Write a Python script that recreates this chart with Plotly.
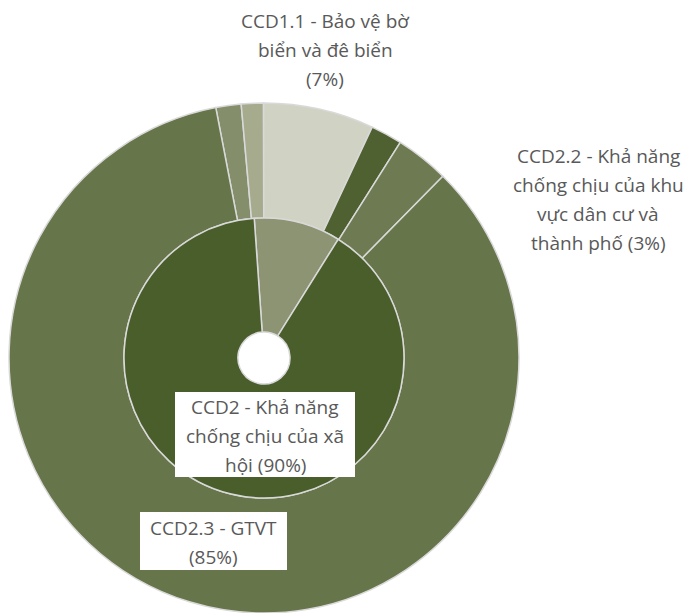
import plotly.graph_objects as go

# Data
inner_labels = ["CCD1", "CCD2 - Khả năng chống chịu của xã hội"]
inner_values = [10, 90]
outer_labels = ["CCD1.2", "CCD1.3", "CCD1.1 - Bảo vệ bờ biển và đê biển", "CCD2.1",
                "CCD2.2 - Khả năng chống chịu của khu vực dân cư và thành phố", "CCD2.3 - GTVT"]
outer_values = [1.6, 1.4, 7, 2, 3.4, 84.6]

inner_colors = ["#8C9474", "#4A5E2C"]
outer_colors = ["#848E6A", "#A6AB8E", "#D0D2C3", "#4F6130", "#6E7B52", "#66754A"]

label_lines = [
    ["CCD1.1 - Bảo vệ bờ", "biển và đê biển", "(7%)"],
    ["CCD2.2 - Khả năng", "chống chịu của khu", "vực dân cư và", "thành phố (3%)"],
    ["CCD2 - Khả năng", "chống chịu của xã", "hội (90%)"],
    ["CCD2.3 - GTVT", "(85%)"],
]

W, H = 694, 613
cx, cy = 264, 358  # center in px from top-left
R_out, R_in, R_hole = 255, 140, 26

def dom(r):
    x0 = (cx - r) / W
    x1 = (cx + r) / W
    yb = H - cy
    y0 = (yb - r) / H
    y1 = (yb + r) / H
    return dict(x=[max(0, x0), min(1, x1)], y=[max(0, y0), min(1, y1)])

fig = go.Figure()
fig.add_trace(go.Pie(
    labels=outer_labels, values=outer_values, sort=False, direction="clockwise",
    rotation=-10.9, hole=R_in / R_out, textinfo="none", hoverinfo="label+percent",
    marker=dict(colors=outer_colors, line=dict(color="#D9D9D9", width=1.5)),
    domain=dom(R_out), showlegend=False,
))
fig.add_trace(go.Pie(
    labels=inner_labels, values=inner_values, sort=False, direction="clockwise",
    rotation=-4, hole=R_hole / R_in, textinfo="none", hoverinfo="label+percent",
    marker=dict(colors=inner_colors, line=dict(color="#D9D9D9", width=1.5)),
    domain=dom(R_in), showlegend=False,
))

# label placement (center x, first line y, box) in px
placements = [
    (325, 21, None),
    (598, 156, None),
    (265, 407, (175, 392, 355, 477)),
    (213, 528, (140, 512, 287, 570)),
]
font = dict(family="Open Sans", size=19, color="#595959")
spacing = 29
for lines, (x, y0, box) in zip(label_lines, placements):
    if box:
        bx0, by0, bx1, by1 = box
        fig.add_shape(type="rect", xref="paper", yref="paper",
                      x0=bx0 / W, x1=bx1 / W, y0=1 - by1 / H, y1=1 - by0 / H,
                      fillcolor="white", line=dict(width=0), layer="above")
    for i, t in enumerate(lines):
        y = y0 + i * spacing
        fig.add_annotation(text=t, x=x / W, y=1 - y / H, xref="paper", yref="paper",
                           xanchor="center", yanchor="middle", showarrow=False,
                           font=font, align="center")

fig.update_layout(width=W, height=H, margin=dict(l=0, r=0, t=0, b=0),
                  paper_bgcolor="white", plot_bgcolor="white")
fig.write_html("out.html")
